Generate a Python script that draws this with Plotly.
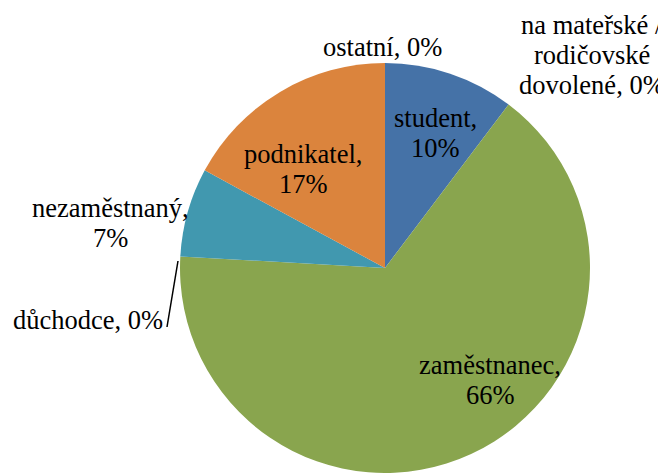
import plotly.graph_objects as go

labels = ["student", "na mateřské /<br>rodičovské<br>dovolené", "zaměstnanec", "důchodce",
          "nezaměstnaný", "podnikatel", "ostatní"]
values = [10.3, 0, 65.6, 0, 7.0, 17.1, 0]
colors = ["#4572A7", "#AA4643", "#89A54E", "#71588F", "#4198AF", "#DB843D", "#93A9CF"]

# label block centres (page pixels from top-left) and whether the value shares the last line
label_pos = [(435, 133), (592, 55), (490, 380), (88, 320), (110, 223), (303, 169), (382, 47)]
one_line = [False, True, False, True, False, False, True]

OFF = 8  # default body margin of the html page
W, H = 666 - OFF, 473 - OFF
LINE_GAP = 30
FONT = dict(family="Liberation Serif", size=26.5, color="black")


def px(x):
    return (x - OFF) / W


def py(y):
    return 1 - (y - OFF) / H


fig = go.Figure(go.Pie(
    labels=labels,
    values=values,
    sort=False,
    direction="clockwise",
    rotation=0,
    marker=dict(colors=colors, line=dict(width=0)),
    textinfo="none",
    showlegend=False,
    domain=dict(x=[px(180), px(590)], y=[0, py(63)]),
    hoverinfo="label+percent",
))

total = sum(values)
annotations = []
for lab, v, (x, y), ol in zip(labels, values, label_pos, one_line):
    pct = f"{round(100 * v / total)}%"
    sep = ", " if ol else ",<br>"
    lines = f"{lab}{sep}{pct}".split("<br>")
    n = len(lines)
    for i, line in enumerate(lines):
        ly = y + (i - (n - 1) / 2) * LINE_GAP
        annotations.append(dict(
            text=line, x=px(x), y=py(ly), xref="paper", yref="paper",
            xanchor="center", yanchor="middle", showarrow=False, font=FONT,
        ))

fig.update_layout(
    width=W, height=H,
    margin=dict(l=0, r=0, t=0, b=0),
    paper_bgcolor="white",
    font=dict(family="Liberation Serif"),
    annotations=annotations,
    shapes=[dict(type="line", xref="paper", yref="paper",
                 x0=px(178), y0=py(261), x1=px(167), y1=py(327),
                 line=dict(color="black", width=1.5))],
)
fig.write_html("out.html")
